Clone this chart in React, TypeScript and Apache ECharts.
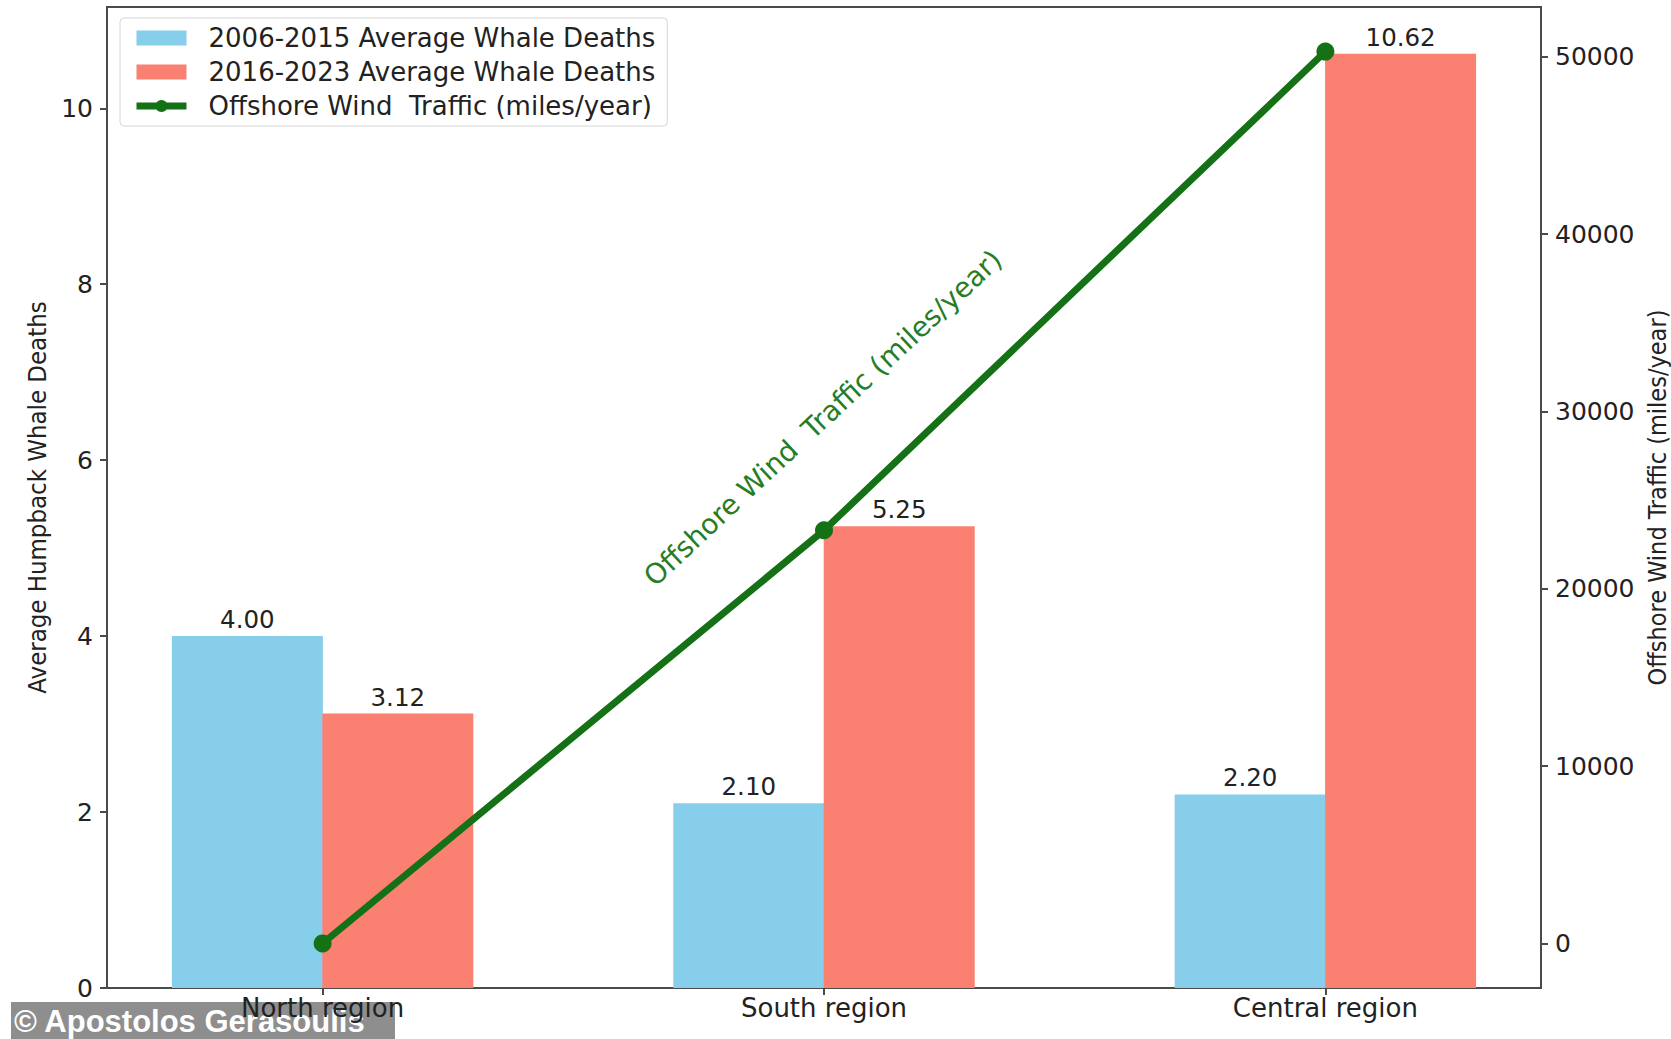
import React, { useEffect, useRef } from "react";
import * as echarts from "echarts";

const categories = ["North region", "South region", "Central region"];
const deaths2006to2015 = [4.0, 2.1, 2.2];
const deaths2016to2023 = [3.12, 5.25, 10.62];
const windTraffic = [0, 23300, 50300];
const leftTicks = [0, 2, 4, 6, 8, 10];
const rightTicks = [0, 10000, 20000, 30000, 40000, 50000];
const categoryTicks = [0, 1, 2];

const seriesNames = [
  "2006-2015 Average Whale Deaths",
  "2016-2023 Average Whale Deaths",
  "Offshore Wind  Traffic (miles/year)",
];

const BAR_OFFSET = 0.15;
const FONT = "'DejaVu Sans', Verdana, sans-serif";
const COND = "'DejaVu Sans Condensed', 'DejaVu Sans', sans-serif";
const GREEN = "#157115";
const AX = "#4a4a4a";

export default function App() {
  const ref = useRef<HTMLDivElement>(null);

  useEffect(() => {
    document.body.style.margin = "0";
    if (!ref.current) return;
    const chart = echarts.init(ref.current, undefined, { renderer: "svg" });

    const tickStyle = { show: true, length: 7, lineStyle: { color: AX, width: 2 } };

    const option: any = {
      animation: false,
      backgroundColor: "#ffffff",
      textStyle: { fontFamily: FONT },
      grid: {
        left: 107,
        right: 130,
        top: 7,
        bottom: 51,
        show: true,
        borderColor: AX,
        borderWidth: 2,
        backgroundColor: "transparent",
        containLabel: false,
        outerBoundsMode: "none",
      },
      legend: {
        orient: "vertical",
        left: 120,
        top: 18,
        itemWidth: 50,
        itemHeight: 15,
        itemGap: 8,
        padding: [7, 12, 7, 13],
        borderColor: "#d6d6d6",
        borderWidth: 1,
        borderRadius: 4,
        backgroundColor: "rgba(255,255,255,0.85)",
        textStyle: {
          fontSize: 26,
          color: "#222",
          fontFamily: FONT,
          lineHeight: 26,
          padding: [0, 0, 0, 17],
        },
        data: [
          { name: seriesNames[0], icon: "rect" },
          { name: seriesNames[1], icon: "rect" },
          {
            name: seriesNames[2],
            lineStyle: { width: 7, color: GREEN },
            itemStyle: { color: GREEN },
          },
        ],
      },
      xAxis: {
        type: "value",
        min: -0.43,
        max: 2.43,
        z: 10,
        axisLine: { show: false, onZero: false },
        splitLine: { show: false },
        axisTick: { ...tickStyle, customValues: categoryTicks },
        axisLabel: {
          customValues: categoryTicks,
          formatter: (v: number) => categories[Math.round(v)] ?? "",
          fontSize: 26,
          color: "#222",
          fontFamily: FONT,
          margin: 7,
        },
      },
      yAxis: [
        {
          type: "value",
          position: "left",
          min: 0,
          max: 11.151,
          name: "Average Humpback Whale Deaths",
          nameLocation: "middle",
          nameRotate: 90,
          nameGap: 56,
          nameTextStyle: { fontSize: 25.5, color: "#222", fontFamily: COND },
          axisLine: { show: false, onZero: false },
          splitLine: { show: false },
          axisTick: { ...tickStyle, customValues: leftTicks },
          axisLabel: {
            customValues: leftTicks,
            formatter: (v: number) => String(v),
            fontSize: 25,
            color: "#222",
            fontFamily: FONT,
            margin: 14,
          },
        },
        {
          type: "value",
          position: "right",
          min: -2515,
          max: 52815,
          name: "Offshore Wind Traffic (miles/year)",
          nameLocation: "middle",
          nameRotate: 90,
          nameGap: 97,
          nameTextStyle: { fontSize: 25, color: "#222", fontFamily: COND },
          axisLine: { show: false, onZero: false },
          splitLine: { show: false },
          axisTick: { ...tickStyle, customValues: rightTicks },
          axisLabel: {
            customValues: rightTicks,
            formatter: (v: number) => String(v),
            fontSize: 25,
            color: "#222",
            fontFamily: FONT,
            margin: 14,
          },
        },
      ],
      series: [
        {
          name: seriesNames[0],
          type: "bar",
          yAxisIndex: 0,
          barWidth: 151,
          barGap: "-100%",
          itemStyle: { color: "#87CEEB" },
          data: categories.map((_, i) => [i - BAR_OFFSET, deaths2006to2015[i]]),
          label: {
            show: true,
            position: "top",
            distance: 4,
            fontSize: 24.5,
            color: "#222",
            fontFamily: FONT,
            formatter: (p: any) => Number(p.value[1]).toFixed(2),
          },
        },
        {
          name: seriesNames[1],
          type: "bar",
          yAxisIndex: 0,
          barWidth: 151,
          barGap: "-100%",
          itemStyle: { color: "#FA8072" },
          data: categories.map((_, i) => [i + BAR_OFFSET, deaths2016to2023[i]]),
          label: {
            show: true,
            position: "top",
            distance: 4,
            fontSize: 24.5,
            color: "#222",
            fontFamily: FONT,
            formatter: (p: any) => Number(p.value[1]).toFixed(2),
          },
        },
        {
          name: seriesNames[2],
          type: "line",
          yAxisIndex: 1,
          z: 5,
          symbol: "circle",
          symbolSize: 18,
          lineStyle: { color: GREEN, width: 7 },
          itemStyle: { color: GREEN },
          data: categories.map((_, i) => [i, windTraffic[i]]),
        },
      ],
      graphic: {
        z: 1,
        elements: [
          {
            type: "text",
            x: 823,
            y: 418,
            rotation: (43 * Math.PI) / 180,
            style: {
              text: "Offshore Wind  Traffic (miles/year)",
              fill: "#267d26",
              fontSize: 28,
              fontFamily: FONT,
              align: "center",
              verticalAlign: "middle",
              textAlign: "center",
              textVerticalAlign: "middle",
            },
          },
          {
            type: "rect",
            shape: { x: 11, y: 1002, width: 384, height: 37 },
            style: { fill: "#8e8e8e" },
          },
          {
            type: "text",
            x: 14,
            y: 1021,
            style: {
              text: "© Apostolos Gerasoulis",
              fill: "#ffffff",
              fontSize: 31,
              fontWeight: "bold",
              fontFamily: "'Liberation Sans', Arial, sans-serif",
              verticalAlign: "middle",
              textVerticalAlign: "middle",
            },
          },
        ],
      },
    };

    chart.setOption(option);
    return () => chart.dispose();
  }, []);

  return <div ref={ref} style={{ width: 1671, height: 1039 }} />;
}
